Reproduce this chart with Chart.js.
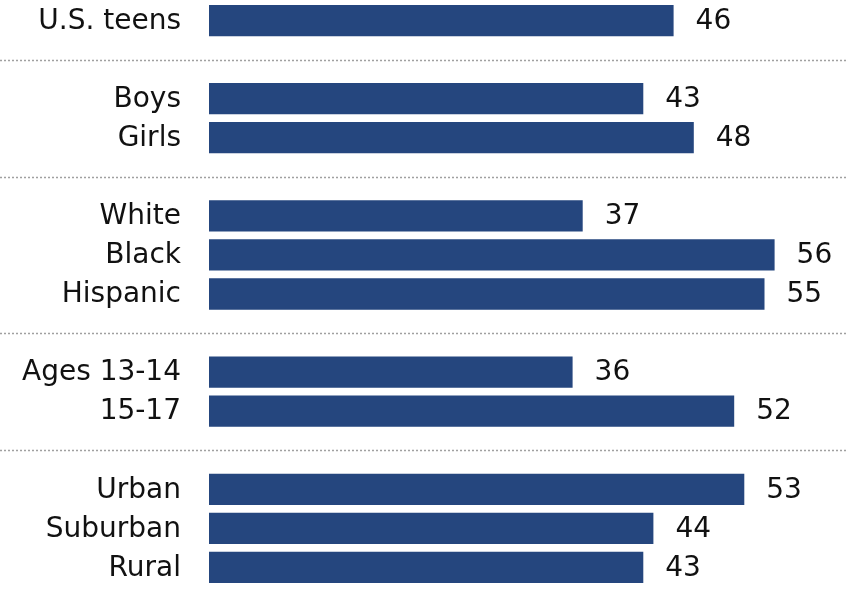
<!DOCTYPE html>
<html>
<head>
<meta charset="utf-8">
<script src="https://cdn.jsdelivr.net/npm/chart.js@4"></script>
<style>
  html, body { margin: 0; padding: 0; background: #fff; }
  #wrap { width: 846px; height: 592px; }
</style>
</head>
<body>
<div id="wrap"><canvas id="c" width="846" height="592"></canvas></div>
<script>
// Categories (empty strings are the gaps between groups)
const categories = ["U.S. teens", "", "Boys", "Girls", "", "White", "Black", "Hispanic", "", "Ages 13-14", "15-17", "", "Urban", "Suburban", "Rural"];
// Values (null for gaps)
const values = [46, null, 43, 48, null, 37, 56, 55, null, 36, 52, null, 53, 44, 43];

const FONT = "'DejaVu Sans', sans-serif";
const TEXT_COLOR = '#111111';

const separatorPlugin = {
  id: 'separators',
  beforeDatasetsDraw(chart) {
    const ctx = chart.ctx;
    const y = chart.scales.y;
    ctx.save();
    ctx.strokeStyle = '#a0a0a0';
    ctx.lineWidth = 1.5;
    ctx.setLineDash([2, 2]);
    categories.forEach((c, i) => {
      if (c === '') {
        const py = Math.round(y.getPixelForValue(i)) + 0.5;
        ctx.beginPath();
        ctx.moveTo(0, py);
        ctx.lineTo(chart.width, py);
        ctx.stroke();
      }
    });
    ctx.restore();
  }
};

const labelPlugin = {
  id: 'labels',
  afterDatasetsDraw(chart) {
    const ctx = chart.ctx;
    const meta = chart.getDatasetMeta(0);
    const y = chart.scales.y;
    ctx.save();
    ctx.font = '28px ' + FONT;
    ctx.fillStyle = TEXT_COLOR;
    ctx.textBaseline = 'middle';
    // category labels
    ctx.textAlign = 'right';
    categories.forEach((c, i) => {
      if (c === '') return;
      ctx.fillText(c, y.right - 28, y.getPixelForValue(i) + 1);
    });
    // value labels
    ctx.textAlign = 'left';
    meta.data.forEach((bar, i) => {
      const v = values[i];
      if (v === null) return;
      ctx.fillText(String(v), bar.x + 22, bar.y + 1);
    });
    ctx.restore();
  }
};

new Chart(document.getElementById('c'), {
  type: 'bar',
  data: {
    labels: categories,
    datasets: [{
      data: values,
      backgroundColor: '#25467e',
      borderWidth: 0,
      categoryPercentage: 1.0,
      barPercentage: 0.8
    }]
  },
  options: {
    indexAxis: 'y',
    responsive: false,
    animation: false,
    layout: { padding: { top: 1, bottom: 5, right: 31, left: 0 } },
    plugins: {
      legend: { display: false },
      tooltip: { enabled: false }
    },
    scales: {
      x: {
        display: false,
        min: 0,
        max: 60
      },
      y: {
        afterFit(scale) { scale.width = 209; },
        grid: { display: false, drawTicks: false },
        border: { display: false },
        ticks: { display: false }
      }
    }
  },
  plugins: [separatorPlugin, labelPlugin]
});
</script>
</body>
</html>
